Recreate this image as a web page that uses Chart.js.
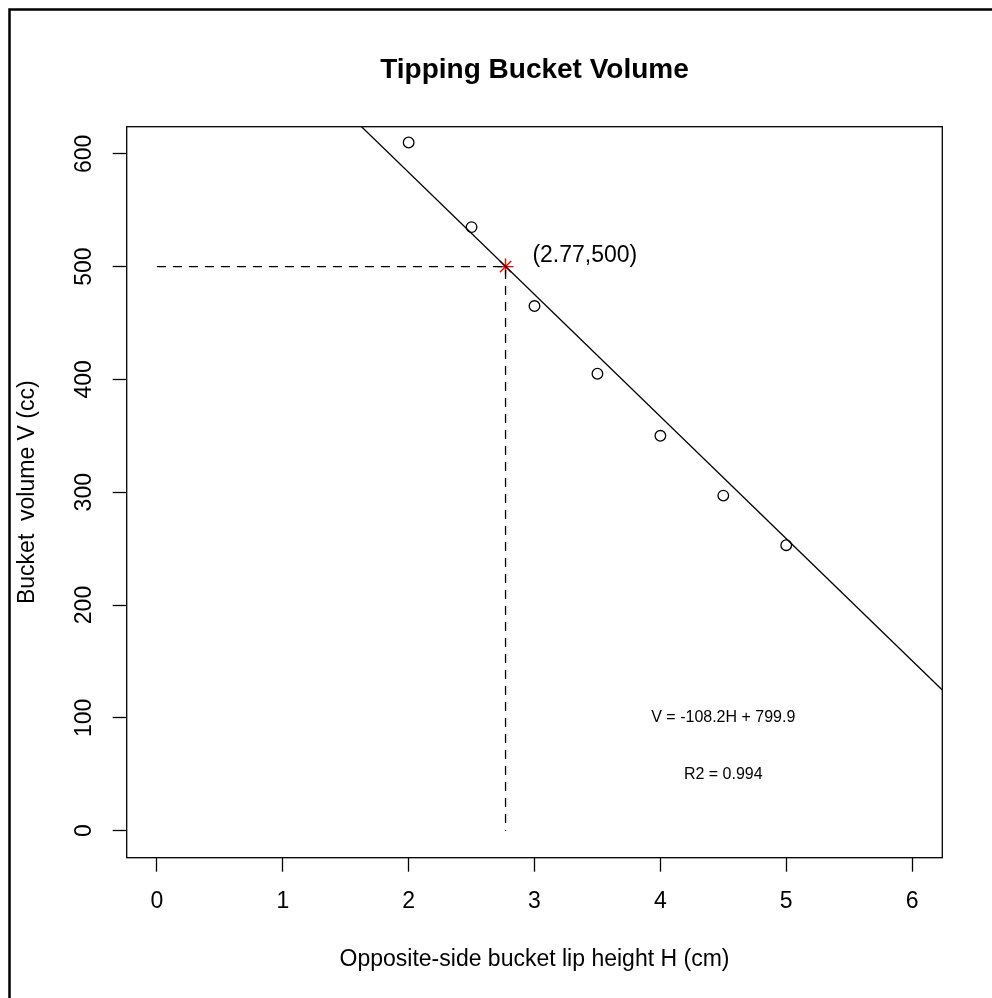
<!DOCTYPE html>
<html>
<head>
<meta charset="utf-8">
<script src="https://cdn.jsdelivr.net/npm/chart.js@4/dist/chart.umd.min.js"></script>
<style>
  html, body { margin: 0; padding: 0; background: #fff; }
  canvas { display: block; }
</style>
</head>
<body>
<canvas id="chart" width="992" height="998"></canvas>
<script>
"use strict";
// measured lip heights (cm) and bucket volumes (cc)
const lipHeight = [2, 2.5, 3, 3.5, 4, 4.5, 5];
const bucketVolume = [610, 535, 465, 405, 350, 297, 253];

// fitted line V = slope*H + intercept
const fitSlope = -108.2;
const fitIntercept = 799.9;

// chosen operating point
const targetH = 2.77;
const targetV = 500;

const xTicks = [0, 1, 2, 3, 4, 5, 6];
const yTicks = [0, 100, 200, 300, 400, 500, 600];
const xRange = [-0.24, 6.24];
const yRange = [-24, 624];

const noteX = [3.4, 4.5, 4.5];
const noteY = [510, 100, 50];
const noteText = ["(2.77,500)", "V = -108.2H + 799.9", "R2 = 0.994"];

const FONT = "'Liberation Sans', Arial, Helvetica, sans-serif";

const canvas = document.getElementById('chart');
const ctx = canvas.getContext('2d');

const points = lipHeight.map((h, i) => ({x: h, y: bucketVolume[i]}));
const fitLine = xRange.map(h => ({x: h, y: fitSlope * h + fitIntercept}));
const guide = [{x: 0, y: targetV}, {x: targetH, y: targetV}, {x: targetH, y: 0}];

const framePlugin = {
    id: 'frame',
    beforeDraw(chart) {
        const c = chart.ctx;
        c.save();
        c.fillStyle = '#fff';
        c.fillRect(0, 0, chart.width, chart.height);
        // page frame (left and top edge only, like the cropped original)
        c.strokeStyle = '#000';
        c.lineWidth = 2.5;
        c.beginPath();
        c.moveTo(9.5, chart.height);
        c.lineTo(9.5, 9.5);
        c.lineTo(chart.width, 9.5);
        c.stroke();
        c.restore();
    },
    afterDraw(chart) {
        const c = chart.ctx;
        const a = chart.chartArea;
        c.save();
        c.strokeStyle = '#000';
        c.lineWidth = 1.3;
        c.strokeRect(a.left, a.top, a.right - a.left, a.bottom - a.top);
        // text notes placed in data coordinates
        const xs = chart.scales.x, ys = chart.scales.y;
        c.fillStyle = '#000';
        c.textAlign = 'center';
        c.textBaseline = 'middle';
        noteText.forEach((t, i) => {
            c.font = (i === 0 ? 23 : 16) + 'px ' + FONT;
            c.fillText(t, xs.getPixelForValue(noteX[i]), ys.getPixelForValue(noteY[i]));
        });
        c.restore();
    }
};

const myChart = new Chart(ctx, {
    type: 'scatter',
    data: {
        datasets: [{
                data: fitLine,
                showLine: true,
                borderColor: '#000',
                borderWidth: 1.3,
                pointRadius: 0
            },
            {
                data: guide,
                showLine: true,
                borderColor: '#000',
                borderWidth: 1.3,
                borderDash: [9, 7],
                pointRadius: 0
            },
            {
                data: points,
                pointStyle: 'circle',
                pointRadius: 5.3,
                pointBorderWidth: 1.3,
                pointBorderColor: '#000',
                pointBackgroundColor: 'rgba(0,0,0,0)'
            },
            {
                data: [{x: targetH, y: targetV}],
                pointStyle: 'star',
                pointRadius: 8,
                pointBorderWidth: 1.4,
                pointBorderColor: '#ff0000',
                pointBackgroundColor: '#ff0000'
            }
        ]
    },
    options: {
        responsive: false,
        animation: false,
        layout: {
            padding: {top: 0, left: 0, right: 49.7, bottom: 0}
        },
        plugins: {
            legend: {display: false},
            tooltip: {enabled: false},
            title: {
                display: true,
                fullSize: false,
                text: 'Tipping Bucket Volume',
                color: '#000',
                font: {family: FONT, size: 28, weight: 'bold'},
                padding: {top: 53.2, bottom: 39.9}
            }
        },
        scales: {
            x: {
                type: 'linear',
                min: xRange[0],
                max: xRange[1],
                afterBuildTicks: s => { s.ticks = xTicks.map(v => ({value: v})); },
                afterFit: s => { s.height = 140.3; },
                border: {display: false},
                grid: {drawOnChartArea: false, tickLength: 14, tickColor: '#000', tickWidth: 1.3},
                ticks: {
                    color: '#000',
                    padding: 16.2,
                    maxRotation: 0,
                    font: {family: FONT, size: 23}
                },
                title: {
                    display: true,
                    text: 'Opposite-side bucket lip height H (cm)',
                    color: '#000',
                    font: {family: FONT, size: 23},
                    padding: {top: 0, bottom: 24.2}
                }
            },
            y: {
                type: 'linear',
                min: yRange[0],
                max: yRange[1],
                afterBuildTicks: s => { s.ticks = yTicks.map(v => ({value: v})); },
                afterFit: s => { s.width = 126.7; },
                border: {display: false},
                grid: {drawOnChartArea: false, tickLength: 14, tickColor: '#000', tickWidth: 1.3},
                ticks: {
                    color: '#000',
                    padding: 8.5,
                    minRotation: 90,
                    maxRotation: 90,
                    crossAlign: 'center',
                    font: {family: FONT, size: 23}
                },
                title: {
                    display: true,
                    text: 'Bucket  volume V (cc)',
                    color: '#000',
                    font: {family: FONT, size: 23},
                    padding: {top: 14.2, bottom: 0}
                }
            }
        }
    },
    plugins: [framePlugin]
});
</script>
</body>
</html>
